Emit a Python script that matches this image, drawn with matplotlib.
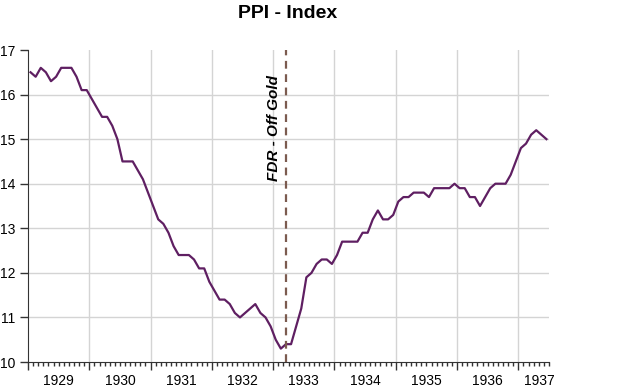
import matplotlib
matplotlib.use("Agg")
import matplotlib.pyplot as plt
import numpy as np

# monthly PPI index, Jan 1929 .. Jun 1937
ppi = [
    16.5, 16.4, 16.6, 16.5, 16.3, 16.4, 16.6, 16.6, 16.6, 16.4, 16.1, 16.1,  # 1929
    15.9, 15.7, 15.5, 15.5, 15.3, 15.0, 14.5, 14.5, 14.5, 14.3, 14.1, 13.8,  # 1930
    13.5, 13.2, 13.1, 12.9, 12.6, 12.4, 12.4, 12.4, 12.3, 12.1, 12.1, 11.8,  # 1931
    11.6, 11.4, 11.4, 11.3, 11.1, 11.0, 11.1, 11.2, 11.3, 11.1, 11.0, 10.8,  # 1932
    10.5, 10.3, 10.4, 10.4, 10.8, 11.2, 11.9, 12.0, 12.2, 12.3, 12.3, 12.2,  # 1933
    12.4, 12.7, 12.7, 12.7, 12.7, 12.9, 12.9, 13.2, 13.4, 13.2, 13.2, 13.3,  # 1934
    13.6, 13.7, 13.7, 13.8, 13.8, 13.8, 13.7, 13.9, 13.9, 13.9, 13.9, 14.0,  # 1935
    13.9, 13.9, 13.7, 13.7, 13.5, 13.7, 13.9, 14.0, 14.0, 14.0, 14.2, 14.5,  # 1936
    14.8, 14.9, 15.1, 15.2, 15.1, 15.0,                                      # 1937
]
start_year = 1929
year_labels = ["1929", "1930", "1931", "1932", "1933", "1934", "1935", "1936", "1937"]
y_ticks = [10, 11, 12, 13, 14, 15, 16, 17]
event_date = 1933 + 2.5 / 12  # March 1933
event_label = "FDR - Off Gold"

# points sit mid-month on a decimal-year axis
dates = start_year + (np.arange(len(ppi)) + 0.5) / 12
x_end = start_year + len(ppi) / 12

fig = plt.figure(figsize=(6.4, 3.9), dpi=100)
ax = fig.add_axes([28 / 640, 1 - 362 / 390, (549 - 28) / 640, (362 - 50) / 390])

ax.plot(dates, ppi, color="#5f1f62", linewidth=1.6, zorder=3)
ax.axvline(event_date, color="#7b5b4f", linewidth=1.6, linestyle=(0, (3.5, 2.5)), zorder=4)
ax.text(event_date - 0.2, 15.25, event_label, rotation=90, ha="center", va="center",
        fontsize=11, fontweight="bold", fontstyle="italic", family="Liberation Sans")

ax.set_xlim(start_year, x_end)
ax.set_ylim(y_ticks[0], y_ticks[-1])

# grid: horizontal lines between 10 and 17, vertical at each year boundary
for v in y_ticks[1:-1]:
    ax.axhline(v, color="#d4d4d4", linewidth=1, zorder=1)
for yr in range(start_year + 1, int(x_end) + 1):
    ax.axvline(yr, color="#d4d4d4", linewidth=1, zorder=1)

ax.set_yticks(y_ticks)
ax.set_yticklabels([str(v) for v in y_ticks], fontsize=10, family="Liberation Sans")
ax.set_xticks(np.arange(start_year, int(x_end) + 1))
ax.set_xticklabels([])
ax.set_xticks(start_year + np.arange(0, len(ppi) + 1) / 12, minor=True)
ax.tick_params(axis="x", which="major", length=6, width=1, color="#333333")
ax.tick_params(axis="x", which="minor", length=3, width=1, color="#333333")
ax.tick_params(axis="y", which="major", length=6, width=1, color="#333333", pad=3)

# year labels centred in each year's span
for i, lab in enumerate(year_labels):
    left = start_year + i
    right = min(left + 1, x_end)
    ax.text((left + right) / 2 + (0.1 if right - left < 1 else 0), -0.06, lab,
            transform=ax.get_xaxis_transform(), ha="center", va="center",
            fontsize=10, family="Liberation Sans")

for side in ("top", "right"):
    ax.spines[side].set_visible(False)
ax.spines["left"].set_color("#333333")
ax.spines["bottom"].set_color("#333333")

fig.text(288 / 640, 1 - 14 / 390, "PPI - Index", ha="center", va="center",
         fontsize=14, fontweight="bold", family="Liberation Sans")

fig.savefig("out.png", dpi=100, facecolor="white")
